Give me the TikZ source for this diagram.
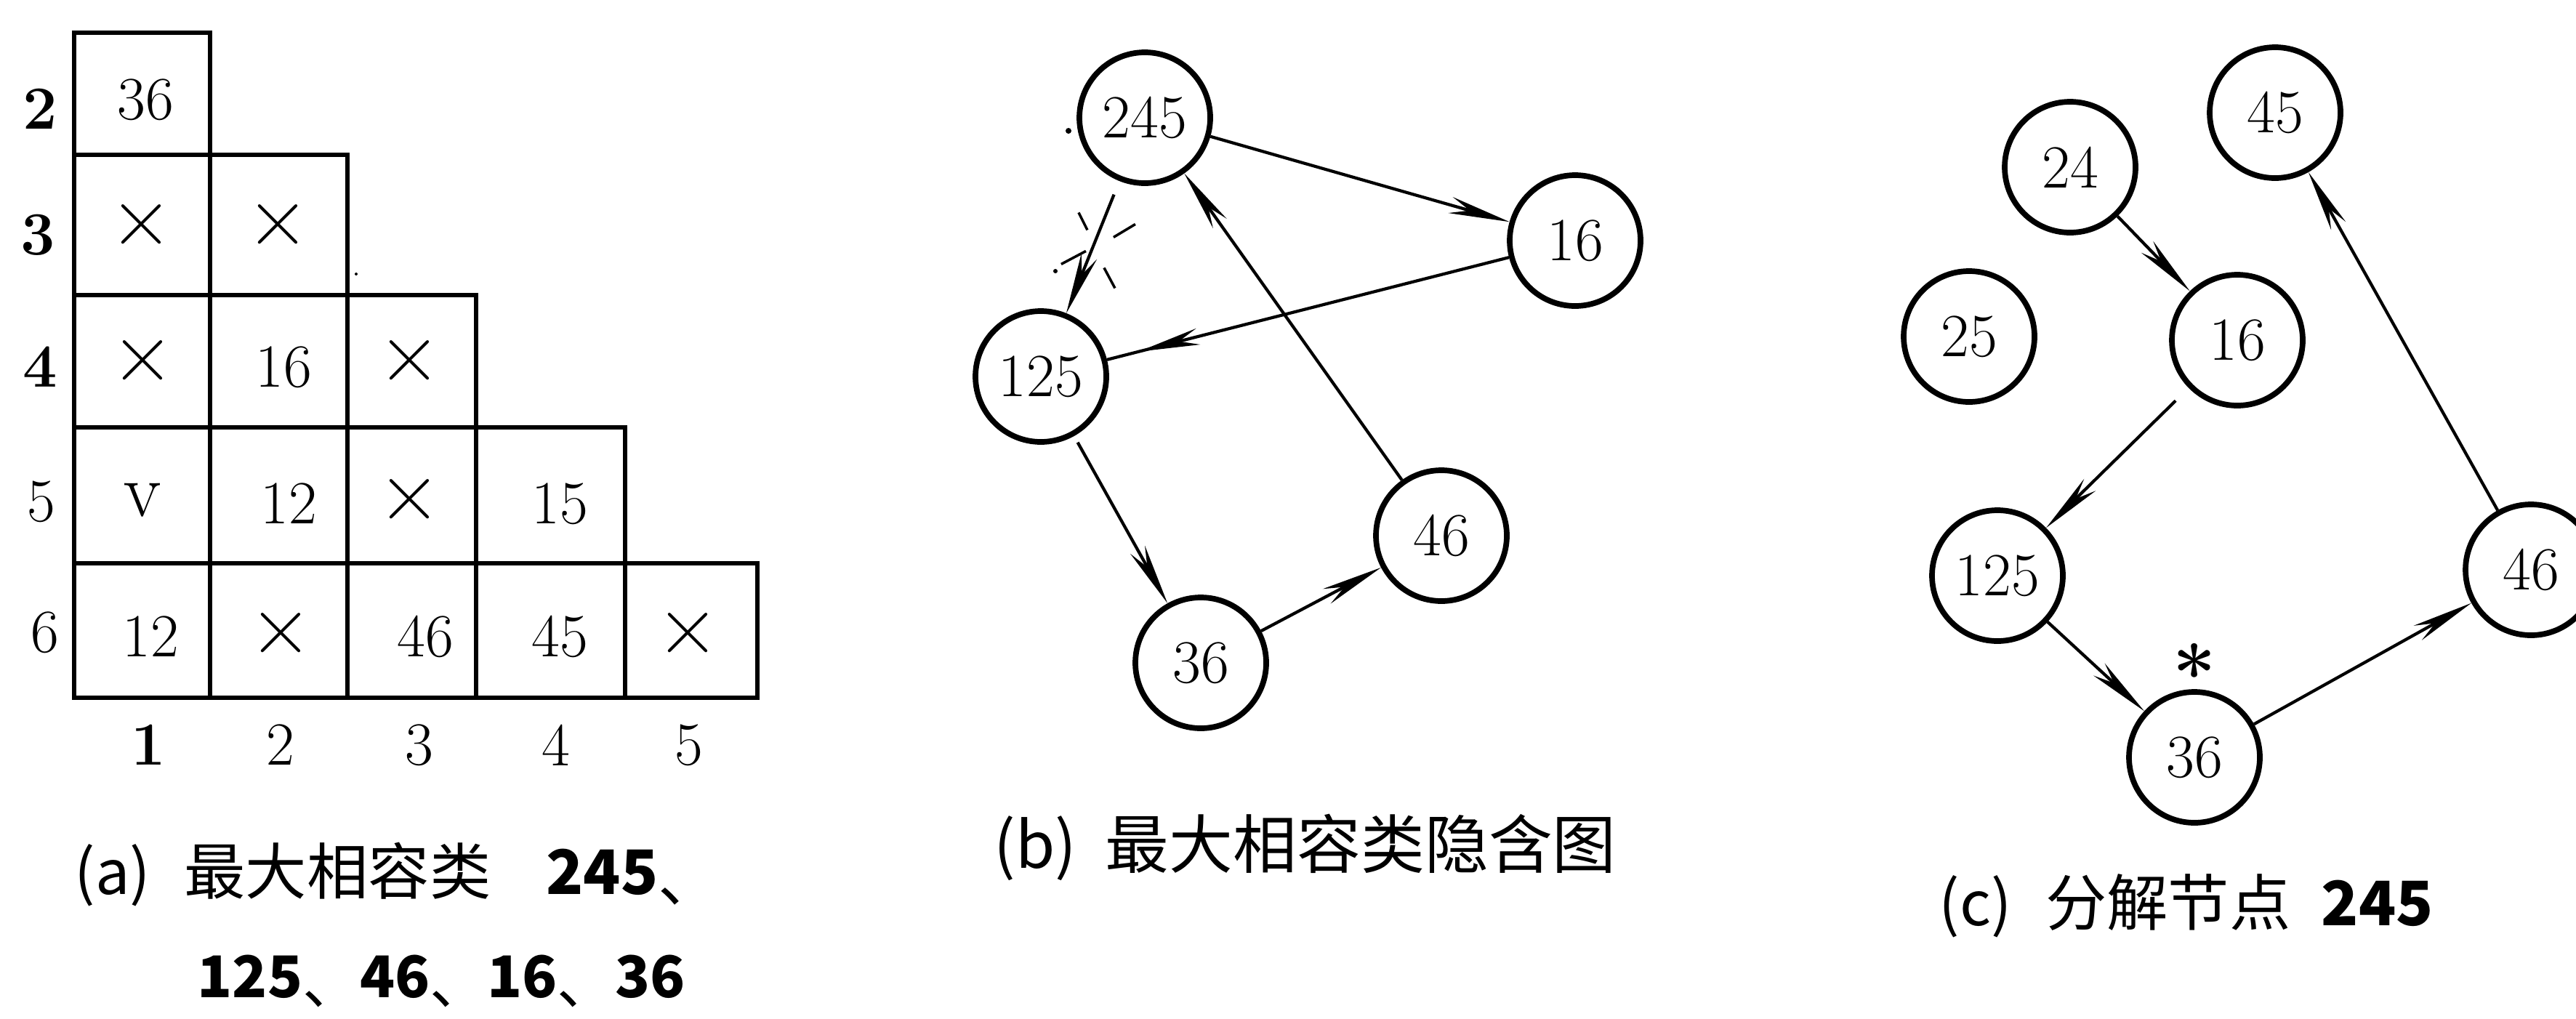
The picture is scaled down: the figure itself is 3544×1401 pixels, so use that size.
\documentclass[tikz,border=0pt]{standalone}
\usepackage{fontspec}
\newfontfamily\cjk{Noto Sans CJK SC}
\usetikzlibrary{arrows.meta,decorations.markings,calc}
\tikzset{
  lbl/.style={inner sep=0pt, font=\fontsize{24}{24}\selectfont},
  lblb/.style={inner sep=0pt, font=\fontsize{24}{24}\selectfont\bfseries},
  xmark/.style={inner sep=0pt, font=\fontsize{34}{34}\selectfont},
  cnode/.style={draw, circle, line width=2.2pt, minimum size=18mm, inner sep=0pt, font=\fontsize{24}{24}\selectfont},
  grid/.style={line width=1.7pt, line join=miter},
  edge/.style={line width=1.2pt},
  tipend/.style={-{Stealth[length=24pt,width=6.5pt]}},
  tipat/.style={postaction={decorate}, decoration={markings, mark=at position #1 with {\arrow{Stealth[length=24pt,width=6.5pt]}}}},
  cut/.style={line width=1pt},
  capt/.style={inner sep=0pt, font=\cjk\fontsize{24}{24}\selectfont},
}
\newcommand{\dun}{\raisebox{-0.12em}{、}}
\begin{document}
\begin{tikzpicture}[x=0.1mm,y=-0.1mm]
\useasboundingbox (0,0) rectangle (3544,1401);

% ---------------- (a) table ----------------
\draw[grid] (102,960) -- (102,45) -- (289,45) -- (289,213) -- (478,213) -- (478,406)
  -- (655,406) -- (655,588) -- (860,588) -- (860,775) -- (1042,775) -- (1042,960) -- cycle;
\draw[grid] (102,213) -- (289,213);
\draw[grid] (102,406) -- (478,406);
\draw[grid] (102,588) -- (655,588);
\draw[grid] (102,775) -- (860,775);
\draw[grid] (289,213) -- (289,960);
\draw[grid] (478,406) -- (478,960);
\draw[grid] (655,588) -- (655,960);
\draw[grid] (860,775) -- (860,960);

% row labels
\node[lblb] (r2) at (55,150) {2};
\node[lblb] (r3) at (52,323) {3};
\node[lblb] (r4) at (55,505) {4};
\node[lbl]  (r5) at (57,690) {5};
\node[lbl]  (r6) at (62,870) {6};
% column labels
\node[lblb] (k1) at (204,1025) {1};
\node[lbl]  (k2) at (386,1025) {2};
\node[lbl]  (k3) at (577,1025) {3};
\node[lbl]  (k4) at (765,1025) {4};
\node[lbl]  (k5) at (948,1025) {5};

% cell contents
\node[lbl]   (t21) at (200,137) {36};
\node[xmark] (t31) at (195,310) {×};
\node[xmark] (t32) at (383,310) {×};
\node[xmark] (t41) at (197,497) {×};
\node[lbl]   (t42) at (390,505) {16};
\node[xmark] (t43) at (564,497) {×};
\node[lbl, font=\fontsize{30}{30}\selectfont] (t51) at (196,688) {v};
\node[lbl]   (t52) at (397,693) {12};
\node[xmark] (t53) at (564,688) {×};
\node[lbl]   (t54) at (770,693) {15};
\node[lbl]   (t61) at (207,876) {12};
\node[xmark] (t62) at (387,872) {×};
\node[lbl]   (t63) at (585,876) {46};
\node[lbl]   (t64) at (770,876) {45};
\node[xmark] (t65) at (947,872) {×};

\fill (490,377) circle (2);

% captions (a)
\node[capt, anchor=west] (capa1) at (102,1203) {(a)\hspace{0.55em}最大相容类\hspace{0.9em}\textbf{245}\dun};
\node[capt, anchor=west, font=\cjk\fontsize{22.5}{22.5}\selectfont] (capa2) at (271,1350) {\textbf{125}\dun\textbf{46}\dun\textbf{16}\dun\textbf{36}};

% ---------------- (b) implication graph ----------------
\node[cnode] (b245) at (1575,162) {245};
\node[cnode] (b16)  at (2167,331) {16};
\node[cnode] (b125) at (1432,518) {125};
\node[cnode] (b46)  at (1983,737) {46};
\node[cnode] (b36)  at (1652,912) {36};

\draw[edge, tipend] (b245) -- (b16);
\draw[edge, tipat=-4.5mm] (b16) -- (b125);
\draw[edge, tipend, shorten <=2mm] (b245) -- (b125);
\draw[edge, tipend] (b46) -- (b245);
\draw[edge, tipend, shorten <=1mm] (b125) -- (b36);
\draw[edge, tipend] (b36) -- (b46);

% cut mark on 245 -> 125
\path (b245.center) -- (b125.center) coordinate[pos=0.49] (cutpt);
\draw[cut] ($(cutpt)+(-21,-44)$) -- ($(cutpt)+(-9,-20)$);
\draw[cut] ($(cutpt)+(14,32)$) -- ($(cutpt)+(29,60)$);
\draw[cut] ($(cutpt)+(-45,27)$) -- ($(cutpt)+(-11,9)$);
\draw[cut] ($(cutpt)+(27,-10)$) -- ($(cutpt)+(57,-28)$);
\fill (1470,180) circle (4);
\fill (1452,373) circle (3);

\node[capt, anchor=west, font=\cjk\fontsize{25}{25}\selectfont] (capb) at (1367,1166) {(b)\hspace{0.45em}最大相容类隐含图};

% ---------------- (c) decomposed node ----------------
\node[cnode] (c45)  at (3130,155) {45};
\node[cnode] (c24)  at (2848,230) {24};
\node[cnode] (c25)  at (2709,463) {25};
\node[cnode] (c16)  at (3078,468) {16};
\node[cnode] (c125) at (2748,792) {125};
\node[cnode] (c46)  at (3482,784) {46};
\node[cnode] (c36)  at (3019,1042) {36};
\node[inner sep=0pt, font=\fontsize{30}{30}\selectfont\bfseries] (star) at (3019,925) {*};

\draw[edge, tipend] (c24) -- (c16);
\draw[edge, tipend, shorten <=2.5mm] (c16) -- (c125);
\draw[edge, tipend] (c125) -- (c36);
\draw[edge, tipend] (c36) -- (c46);
\draw[edge, tipend] (c46) -- (c45);

\node[capt, anchor=west] (capc) at (2667,1246) {(c)\hspace{0.55em}分解节点\hspace{0.5em}\textbf{245}};
\end{tikzpicture}
\end{document}
